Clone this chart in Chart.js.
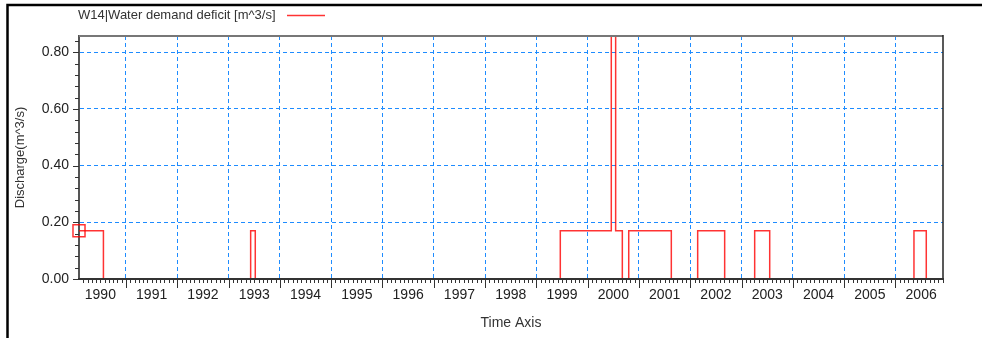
<!DOCTYPE html>
<html>
<head>
<meta charset="utf-8">
<script src="https://cdn.jsdelivr.net/npm/chart.js@4/dist/chart.umd.min.js"></script>
<style>
  body { margin: 0; background: #fff; }
</style>
</head>
<body>
<canvas id="w14_chart" width="982" height="338"></canvas>
<script>
var seriesName = "W14|Water demand deficit [m^3/s]";
// points where the step series changes value (decimal years) and the new value
var times   = [1990.084, 1990.56, 1993.43, 1993.52, 1999.466, 2000.46, 2000.545, 2000.675, 2000.80, 2001.63, 2002.144, 2002.67, 2003.255, 2003.548, 2006.36, 2006.60, 2006.926];
var deficit = [0.17, 0, 0.17, 0, 0.17, 1.2, 0.17, 0, 0.17, 0, 0.17, 0, 0.17, 0, 0.17, 0, 0];
var years = [1990, 1991, 1992, 1993, 1994, 1995, 1996, 1997, 1998, 1999, 2000, 2001, 2002, 2003, 2004, 2005, 2006];
var yTicks = [0, 0.2, 0.4, 0.6, 0.8];

var points = times.map(function(t, i){ return {x: t, y: deficit[i]}; });

var fontFam = "'Liberation Sans', Arial, sans-serif";
var lineRed = 'rgba(255,0,0,0.8)';

// frame, legend line and the small tick marks the plot uses
var decorations = {
  id: 'decorations',
  afterDraw: function(chart){
    var c = chart.ctx, a = chart.chartArea;
    var xs = chart.scales.x, ys = chart.scales.y;
    c.save();

    // outer frame
    c.strokeStyle = '#000';
    c.lineWidth = 2.5;
    c.beginPath();
    c.moveTo(7.5, 338); c.lineTo(7.5, 5); c.lineTo(982, 5);
    c.stroke();

    // plot box top + right, bottom axis over the zero line
    c.strokeStyle = '#777';
    c.lineWidth = 2;
    c.beginPath();
    c.moveTo(a.left, a.top); c.lineTo(a.right, a.top);
    c.stroke();
    c.strokeStyle = '#222';
    c.lineWidth = 1.5;
    c.beginPath();
    c.moveTo(a.right, a.top - 1); c.lineTo(a.right, a.bottom);
    c.stroke();
    c.strokeStyle = '#333';
    c.lineWidth = 2;
    c.beginPath();
    c.moveTo(a.left - 1, a.bottom); c.lineTo(a.right + 1, a.bottom);
    c.stroke();

    // month / year ticks
    c.strokeStyle = '#333';
    c.lineWidth = 1;
    c.beginPath();
    for (var m = Math.ceil(xs.min * 12); m <= xs.max * 12; m++) {
      var px = Math.round(xs.getPixelForValue(m / 12)) + 0.5;
      var len = (m % 12 === 0) ? 9 : 4;
      c.moveTo(px, a.bottom); c.lineTo(px, a.bottom + len);
    }
    for (var k = 0; k * 0.04 <= ys.max; k++) {
      var py = Math.round(ys.getPixelForValue(k * 0.04)) + 0.5;
      var l = (k % 5 === 0) ? 6 : 4;
      c.moveTo(a.left - l, py); c.lineTo(a.left, py);
    }
    c.stroke();

    // legend: text then line
    var ds = chart.data.datasets[0];
    c.font = '13px ' + fontFam;
    c.fillStyle = '#333';
    c.textBaseline = 'middle';
    c.textAlign = 'left';
    c.fillText(ds.label, 78, 15);
    c.strokeStyle = ds.borderColor;
    c.lineWidth = 1.5;
    c.beginPath();
    c.moveTo(287, 15.5); c.lineTo(325, 15.5);
    c.stroke();

    c.restore();
  }
};

var ctx = document.getElementById("w14_chart").getContext('2d');
var w14_chart = new Chart(ctx, {
  type: 'line',
  data: {
    datasets: [{
      label: seriesName,
      data: points,
      stepped: true,
      borderColor: lineRed,
      borderWidth: 1.5,
      pointStyle: 'rect',
      pointRadius: function(c){ return c.dataIndex === 0 ? 8.5 : 0; },
      pointBorderColor: lineRed,
      pointBackgroundColor: 'rgba(0,0,0,0)',
      pointBorderWidth: 1.5,
      clip: {left: 12, top: 0, right: 0, bottom: 0}
    }]
  },
  options: {
    responsive: false,
    animation: false,
    layout: { padding: { left: 9, right: 39, top: 36, bottom: 0 } },
    plugins: {
      legend: { display: false },
      tooltip: { enabled: false }
    },
    scales: {
      x: {
        type: 'linear',
        min: 1990.084,
        max: 2006.926,
        afterFit: function(s){ s.height = 59; },
        afterBuildTicks: function(s){
          var t = [];
          years.forEach(function(yr){
            if (yr >= s.min) t.push({value: yr});
            t.push({value: yr + 0.5});
          });
          s.ticks = t;
        },
        grid: {
          drawTicks: false,
          color: function(c){ return (c.tick && Number.isInteger(c.tick.value)) ? '#1e8cff' : 'rgba(0,0,0,0)'; },
          lineWidth: 1
        },
        border: { color: '#444', width: 2, dash: [4, 3] },
        ticks: {
          autoSkip: false,
          maxRotation: 0,
          padding: 8,
          color: '#222',
          font: { family: fontFam, size: 14 },
          callback: function(v){ return Number.isInteger(v) ? '' : String(Math.floor(v)); }
        },
        title: {
          display: true,
          text: 'Time Axis',
          color: '#333',
          font: { family: fontFam, size: 14 },
          padding: { top: 4, bottom: 6 }
        }
      },
      y: {
        min: 0,
        max: 0.857,
        afterFit: function(s){ s.width = 70; },
        afterBuildTicks: function(s){
          s.ticks = yTicks.map(function(v){ return {value: v}; });
        },
        grid: {
          drawTicks: false,
          color: function(c){ return (c.tick && c.tick.value > 0) ? '#1e8cff' : 'rgba(0,0,0,0)'; },
          lineWidth: 1
        },
        border: { color: '#555', width: 2, dash: [4, 3] },
        ticks: {
          padding: 10,
          color: '#222',
          font: { family: fontFam, size: 14 },
          callback: function(v){ return v.toFixed(2); }
        },
        title: {
          display: true,
          text: 'Discharge(m^3/s)',
          color: '#333',
          font: { family: fontFam, size: 13 },
          padding: { top: 4, bottom: 4 }
        }
      }
    }
  },
  plugins: [decorations]
});
</script>
</body>
</html>
